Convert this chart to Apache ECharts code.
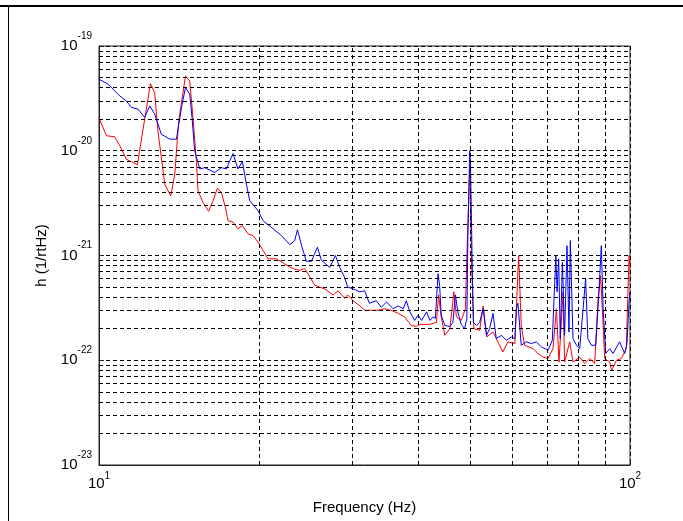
<!DOCTYPE html>
<html>
<head>
<meta charset="utf-8">
<script src="https://cdn.jsdelivr.net/npm/echarts@6/dist/echarts.min.js"></script>
<style>
  html, body { margin: 0; padding: 0; background: #fff; }
  #main { width: 683px; height: 521px; }
</style>
</head>
<body>
<div id="main"></div>
<script>
// strain values are written in units of 1e-22 (1/rtHz); the y axis runs in the
// same units (echarts rounds axis bounds to 20 decimals, so 1e-23 would become 0)
const H_EXP = -22

const redFreq = [10.0, 10.33, 10.7, 10.94, 11.26, 11.81, 12.19, 12.5, 12.73, 12.91,
  13.3, 13.65, 13.89, 14.13, 14.55, 14.82, 15.03, 15.26, 15.36, 15.7,
  16.09, 16.4, 16.71, 17.0, 17.3, 17.5, 17.88, 18.27, 18.62, 19.08,
  19.5, 19.93, 20.37, 20.81, 21.58, 22.38, 23.19, 23.88, 24.4, 25.49,
  26.6, 27.6, 28.2, 29.0, 29.4, 30.1, 31.0, 31.65, 32.6, 33.5,
  34.5, 35.5, 36.6, 37.6, 38.75, 39.6, 40.2, 40.5, 41.96, 43.2,
  43.6, 44.1, 44.8, 45.8, 46.6, 47.1, 48.1, 48.98, 49.4, 49.9,
  50.3, 50.8, 52.1, 52.9, 53.7, 55.2, 56.4, 57.6, 58.9, 60.7,
  61.7, 62.4, 63.3, 65.7, 67.1, 68.6, 70.1, 71.6, 72.7, 73.5,
  74.8, 75.3, 77.0, 78.1, 80.4, 82.2, 84.0, 85.8, 87.0, 88.0,
  88.7, 89.6, 91.6, 92.3, 94.3, 96.3, 98.4, 99.6, 100]
const redH = [206, 139, 136, 112, 83, 73.6, 200, 437, 359, 155,
  48, 37, 60, 193, 518, 464, 208, 78, 41.6, 32,
  26.4, 33.4, 44, 40, 28.8, 21.5, 20.8, 18, 19.3, 16.1,
  15.5, 13.4, 11.2, 9.3, 9.3, 8.3, 7.5, 7.2, 7.5, 5.2,
  4.8, 4.2, 4.6, 3.9, 4.2, 3.7, 3.3, 3.0, 3.0, 3.0,
  3.1, 3.0, 2.8, 2.6, 2.15, 2.1, 2.2, 2.2, 2.2, 2.3,
  4.2, 2.6, 1.73, 2.0, 4.5, 2.6, 2.4, 3.1, 14.4, 67,
  8.6, 2.0, 1.93, 3.3, 1.67, 1.86, 1.5, 1.2, 1.5, 1.44,
  10, 2.15, 1.39, 1.29, 1.16, 1.07, 1.04, 1.29, 3.1, 0.96,
  4.5, 0.96, 1.5, 0.96, 1.07, 0.93, 1.04, 0.93, 3.6, 6.4,
  3.1, 1.04, 0.96, 0.80, 1.0, 1.04, 1.29, 10, 8]

const blueFreq = [10.0, 10.4, 10.94, 11.26, 11.51, 11.84, 12.19, 12.46, 12.73, 13.1,
  13.59, 13.99, 14.3, 14.55, 14.82, 14.97, 15.14, 15.48, 15.82, 16.52,
  17.0, 17.37, 17.88, 18.27, 18.62, 18.95, 19.22, 19.93, 20.37, 21.27,
  22.06, 22.87, 23.37, 23.64, 24.12, 24.58, 25.12, 25.78, 26.23, 27.2,
  27.88, 28.4, 29.0, 29.4, 30.1, 31.0, 31.65, 32.3, 33.3, 34.0,
  34.8, 35.8, 36.6, 37.4, 37.9, 38.5, 39.3, 39.9, 40.5, 41.4,
  42.0, 42.6, 43.0, 43.5, 43.8, 44.1, 44.8, 45.8, 46.4, 46.9,
  47.4, 48.1, 48.8, 49.3, 49.5, 49.9, 50.1, 50.4, 50.7, 51.4,
  52.1, 52.9, 53.7, 54.4, 55.2, 56.0, 57.3, 58.5, 59.8, 60.7,
  61.1, 61.5, 62.4, 63.8, 65.2, 66.6, 68.1, 70.1, 71.4, 72.5,
  72.9, 73.4, 73.9, 74.6, 75.3, 76.1, 76.75, 77.2, 78.1, 79.3,
  80.4, 81.6, 82.5, 83.3, 84.6, 86.2, 87.4, 88.3, 89.0, 90.0,
  91.6, 92.9, 95.6, 97.7, 98.7, 99.6, 100]
const blueH = [482, 432, 334, 299, 259, 250, 208, 268, 224, 144,
  129, 129, 259, 401, 347, 208, 100, 67, 69, 62,
  69, 67, 94, 67, 79, 48, 33.4, 26.8, 21.5, 18.0,
  15.5, 12.7, 13.9, 17.6, 12.0, 8.8, 8.8, 12.0, 9.0, 7.7,
  10, 7.7, 6.2, 5.0, 4.8, 4.5, 4.6, 3.5, 3.7, 3.2,
  3.6, 3.1, 3.3, 3.1, 3.7, 2.9, 2.4, 2.7, 2.4, 2.9,
  2.4, 2.6, 2.5, 6.7, 5.2, 2.7, 2.15, 2.1, 2.3, 4.2,
  2.9, 2.2, 2.0, 2.5, 14.4, 100, 67, 10.8, 2.3, 2.15,
  2.3, 3.1, 1.73, 2.0, 2.8, 1.61, 1.73, 1.55, 1.67, 1.61,
  3.1, 3.5, 1.39, 1.5, 1.44, 1.5, 1.34, 1.25, 1.55, 10,
  4.5, 9.3, 1.61, 8.6, 1.73, 12.4, 1.86, 13.9, 1.61, 1.39,
  1.29, 3.1, 6.0, 1.61, 1.39, 1.39, 4.5, 12.4, 3.1, 1.16,
  1.29, 1.16, 1.5, 1.16, 1.44, 3.6, 4.5]

// axis range (y in units of 1e-22: 1e-23 .. 1e-19) and grid decades
const xRange = [10, 100]
const yRange = [0.1, 1000]
const gridMantissas = [2, 3, 4, 5, 6, 7, 8, 9]
const xDecades = [10]
const yDecades = [0.1, 1, 10, 100]

const FONT = 'Liberation Sans, Arial, sans-serif'

const toPairs = (freqs, vals) => freqs.map((f, i) => [f, vals[i]])

// dashed minor grid at 2..9 of every decade
const minorLines = []
xDecades.forEach((d) => gridMantissas.forEach((m) => minorLines.push({ xAxis: m * d })))
yDecades.forEach((d) => gridMantissas.forEach((m) => minorLines.push({ yAxis: m * d })))

const powerLabel = (offset) => (v) => `{b|10}{s|${Math.round(Math.log10(v)) + offset}}`

const dashed = { color: '#000', width: 1, type: [4, 3] }

const chart = echarts.init(document.getElementById('main'))
chart.setOption({
  animation: false,
  backgroundColor: '#fff',
  grid: {
    left: 99, right: 53, top: 46, bottom: 56,
    show: true, borderColor: '#222', borderWidth: 1, backgroundColor: '#fff',
  },
  xAxis: {
    type: 'log',
    logBase: 10,
    min: xRange[0],
    max: xRange[1],
    name: 'Frequency (Hz)',
    nameLocation: 'middle',
    nameGap: 35,
    nameTextStyle: { fontFamily: FONT, fontSize: 15, color: '#000' },
    axisLine: { lineStyle: { color: '#222' } },
    axisTick: { inside: true, length: 5, lineStyle: { color: '#222' } },
    splitLine: { show: true, lineStyle: dashed },
    axisLabel: {
      formatter: powerLabel(0),
      margin: 6,
      color: '#000',
      rich: {
        b: { fontFamily: FONT, fontSize: 15, lineHeight: 25, color: '#000' },
        s: { fontFamily: FONT, fontSize: 10, lineHeight: 10, verticalAlign: 'top', color: '#000' },
      },
    },
  },
  yAxis: {
    type: 'log',
    logBase: 10,
    min: yRange[0],
    max: yRange[1],
    name: 'h (1/rtHz)',
    nameLocation: 'middle',
    nameRotate: 90,
    nameGap: 50,
    nameTextStyle: { fontFamily: FONT, fontSize: 15, color: '#000' },
    axisLine: { show: true, lineStyle: { color: '#222' } },
    axisTick: { show: true, inside: true, length: 5, lineStyle: { color: '#222' } },
    splitLine: { show: true, lineStyle: dashed },
    axisLabel: {
      formatter: powerLabel(H_EXP),
      margin: 7,
      color: '#000',
      rich: {
        b: { fontFamily: FONT, fontSize: 15, lineHeight: 30, color: '#000' },
        s: { fontFamily: FONT, fontSize: 10, lineHeight: 10, verticalAlign: 'top', color: '#000' },
      },
    },
  },
  graphic: [
    // outer figure frame (top and left edges only)
    { type: 'line', shape: { x1: 0, y1: 6, x2: 683, y2: 6 }, style: { stroke: '#000', lineWidth: 2 } },
    { type: 'line', shape: { x1: 8.5, y1: 5, x2: 8.5, y2: 521 }, style: { stroke: '#000', lineWidth: 1 } },
  ],
  series: [
    {
      name: 'red',
      type: 'line',
      data: toPairs(redFreq, redH),
      showSymbol: false,
      z: 3,
      lineStyle: { color: '#ff0000', width: 1 },
      itemStyle: { color: '#ff0000' },
      markLine: {
        silent: true,
        symbol: 'none',
        label: { show: false },
        lineStyle: dashed,
        data: minorLines,
      },
    },
    {
      name: 'blue',
      type: 'line',
      data: toPairs(blueFreq, blueH),
      showSymbol: false,
      z: 4,
      lineStyle: { color: '#0000ff', width: 1 },
      itemStyle: { color: '#0000ff' },
    },
  ],
})
</script>
</body>
</html>
